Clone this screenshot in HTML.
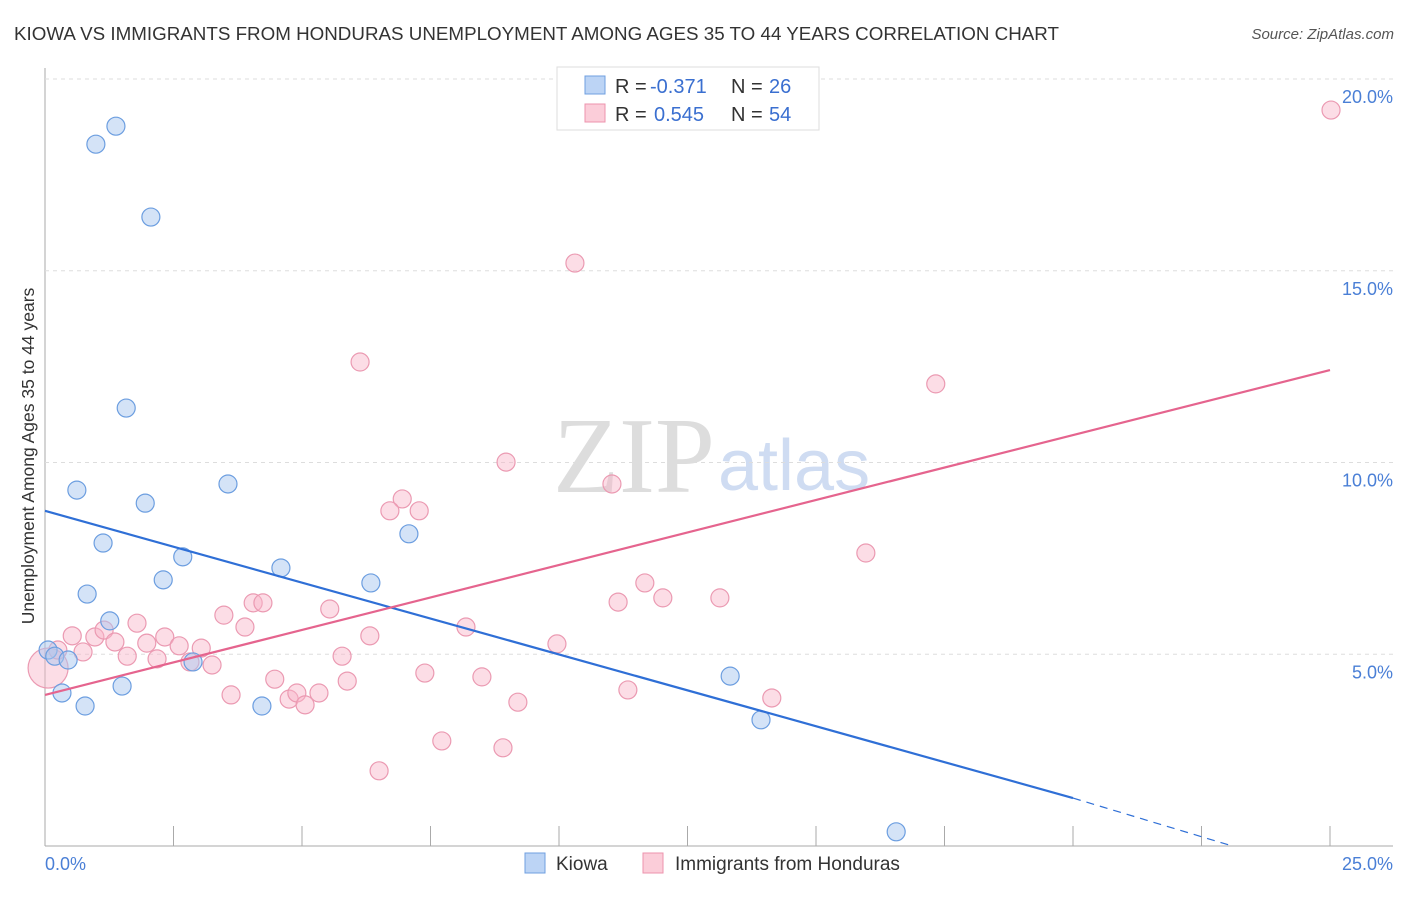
<!DOCTYPE html>
<html><head><meta charset="utf-8"><style>
body{margin:0;background:#fff;font-family:"Liberation Sans",sans-serif}
</style></head><body>
<svg id="c" width="1406" height="892" xmlns="http://www.w3.org/2000/svg">
<text x="14" y="40" font-size="18" fill="#333" textLength="1045" lengthAdjust="spacingAndGlyphs">KIOWA VS IMMIGRANTS FROM HONDURAS UNEMPLOYMENT AMONG AGES 35 TO 44 YEARS CORRELATION CHART</text>
<text x="1394" y="39" font-size="15" fill="#555" font-style="italic" text-anchor="end">Source: ZipAtlas.com</text>
<text x="715" y="492" font-size="108" font-family="Liberation Serif,serif" fill="#ddd" text-anchor="end">ZIP</text>
<text x="718" y="490" font-size="72" fill="#cfdcf2">atlas</text>
<text transform="translate(34,456) rotate(-90)" font-size="17.5" fill="#333" text-anchor="middle">Unemployment Among Ages 35 to 44 years</text>
<g id="grid"></g><g id="marks"></g>
<g>
<rect x="557" y="67" width="262" height="63" fill="#fff" stroke="#ddd"/>
<rect x="585" y="76" width="20" height="18" fill="#bcd4f5" stroke="#6f9fe0"/>
<rect x="585" y="104" width="20" height="18" fill="#fbcdd9" stroke="#ec93ad"/>
<text x="615" y="93" font-size="20" fill="#333">R =</text>
<text x="650" y="93" font-size="20" fill="#3a6fd0">-0.371</text>
<text x="731" y="93" font-size="20" fill="#333">N =</text>
<text x="769" y="93" font-size="20" fill="#3a6fd0">26</text>
<text x="615" y="121" font-size="20" fill="#333">R =</text>
<text x="654" y="121" font-size="20" fill="#3a6fd0">0.545</text>
<text x="731" y="121" font-size="20" fill="#333">N =</text>
<text x="769" y="121" font-size="20" fill="#3a6fd0">54</text>
</g>
<g>
<rect x="525" y="853" width="20" height="20" fill="#bcd4f5" stroke="#6f9fe0"/>
<text x="556" y="870" font-size="19" fill="#333">Kiowa</text>
<rect x="643" y="853" width="20" height="20" fill="#fbcdd9" stroke="#ec93ad"/>
<text x="675" y="870" font-size="19" fill="#333">Immigrants from Honduras</text>
</g>
</svg>
<script>
const yTicks=[5,10,15,20];
const yTickLabels=["5.0%","10.0%","15.0%","20.0%"];
const xTickCount=10;
const kiowaX=[0.99,1.38,2.06,1.58,0.62,1.95,3.56,1.13,2.68,2.30,4.59,0.82,1.26,6.34,7.08,0.06,0.19,0.45,2.88,0.33,0.78,1.50,4.22,13.33,13.93,16.56];
const kiowaY=[18.3,18.77,16.4,11.42,9.28,8.94,9.44,7.9,7.54,6.94,7.25,6.57,5.87,6.86,8.14,5.11,4.95,4.85,4.80,3.99,3.65,4.17,3.65,4.43,3.29,0.37];
const hondX=[0.06,0.25,0.53,0.74,0.97,1.15,1.36,1.60,1.79,1.98,2.18,2.33,2.61,2.82,3.04,3.25,3.48,3.89,4.05,4.24,3.62,4.47,4.75,4.90,5.06,5.33,5.54,5.78,5.88,6.32,6.50,7.39,7.72,8.19,8.50,8.91,9.20,9.96,11.34,11.15,11.67,12.02,13.13,14.14,15.97,17.33,25.02,10.31,6.13,8.97,11.03,6.95,6.71,7.28];
const hondY=[4.64,5.11,5.48,5.06,5.45,5.63,5.32,4.95,5.81,5.29,4.88,5.45,5.22,4.80,5.16,4.72,6.02,5.71,6.34,6.34,3.94,4.35,3.83,3.99,3.68,3.99,6.18,4.95,4.30,5.48,1.96,4.51,2.74,5.71,4.41,2.56,3.75,5.27,4.07,6.36,6.86,6.47,6.47,3.86,7.64,12.05,19.19,15.2,12.62,10.01,9.44,9.05,8.74,8.74];
const blueLine=[[0,8.74],[20,1.25]];
const blueDash=[[20,1.25],[23.1,0]];
const pinkLine=[[0,3.94],[25,12.41]];
const X=v=>45+v*51.4, Y=v=>846-v*38.35;
const NS="http://www.w3.org/2000/svg";
function mk(t,a,p){const e=document.createElementNS(NS,t);for(const k in a)e.setAttribute(k,a[k]);p.appendChild(e);return e;}
const g=document.getElementById('grid'),m=document.getElementById('marks');
let ax=mk('line',{x1:45,y1:68,x2:45,y2:846,stroke:'#aaa'},g);

let bx=mk('line',{x1:45,y1:846,x2:1393,y2:846,stroke:'#aaa'},g);

yTicks.forEach((t,i)=>{
 const l=mk('line',{x1:45,x2:1393,y1:Y(t),y2:Y(t),stroke:'#ddd','stroke-dasharray':'4,4'},g);
 
 const tx=mk('text',{x:1393,y:Y(t)+24,'font-size':18,fill:'#4a7fd6','text-anchor':'end'},g);
 tx.textContent=yTickLabels[i];
 
});
for(let i=1;i<=xTickCount;i++){const l=mk('line',{x1:X(i*2.5),x2:X(i*2.5),y1:826,y2:846,stroke:'#aaa'},g);
 }
let t0=mk('text',{x:45,y:870,'font-size':18,fill:'#4a7fd6'},g);t0.textContent='0.0%';

let t1=mk('text',{x:1393,y:870,'font-size':18,fill:'#4a7fd6','text-anchor':'end'},g);t1.textContent='25.0%';

hondX.forEach((x,i)=>{const c=mk('circle',{cx:X(x),cy:Y(hondY[i]),r:i==0?20:9,fill:'rgba(248,180,200,0.45)',stroke:'#eb9ab2','stroke-width':1.2},m);
 });
kiowaX.forEach((x,i)=>{const c=mk('circle',{cx:X(x),cy:Y(kiowaY[i]),r:9,fill:'rgba(170,200,240,0.5)',stroke:'#6c9ee0','stroke-width':1.2},m);
 });
let bl=mk('line',{x1:X(blueLine[0][0]),y1:Y(blueLine[0][1]),x2:X(blueLine[1][0]),y2:Y(blueLine[1][1]),stroke:'#2f6fd6','stroke-width':2.2},m);

let bd=mk('line',{x1:X(blueDash[0][0]),y1:Y(blueDash[0][1]),x2:X(blueDash[1][0]),y2:Y(blueDash[1][1]),stroke:'#2f6fd6','stroke-width':1.2,'stroke-dasharray':'8,6'},m);

let pl=mk('line',{x1:X(pinkLine[0][0]),y1:Y(pinkLine[0][1]),x2:X(pinkLine[1][0]),y2:Y(pinkLine[1][1]),stroke:'#e5648e','stroke-width':2.2},m);

</script>
</body></html>
